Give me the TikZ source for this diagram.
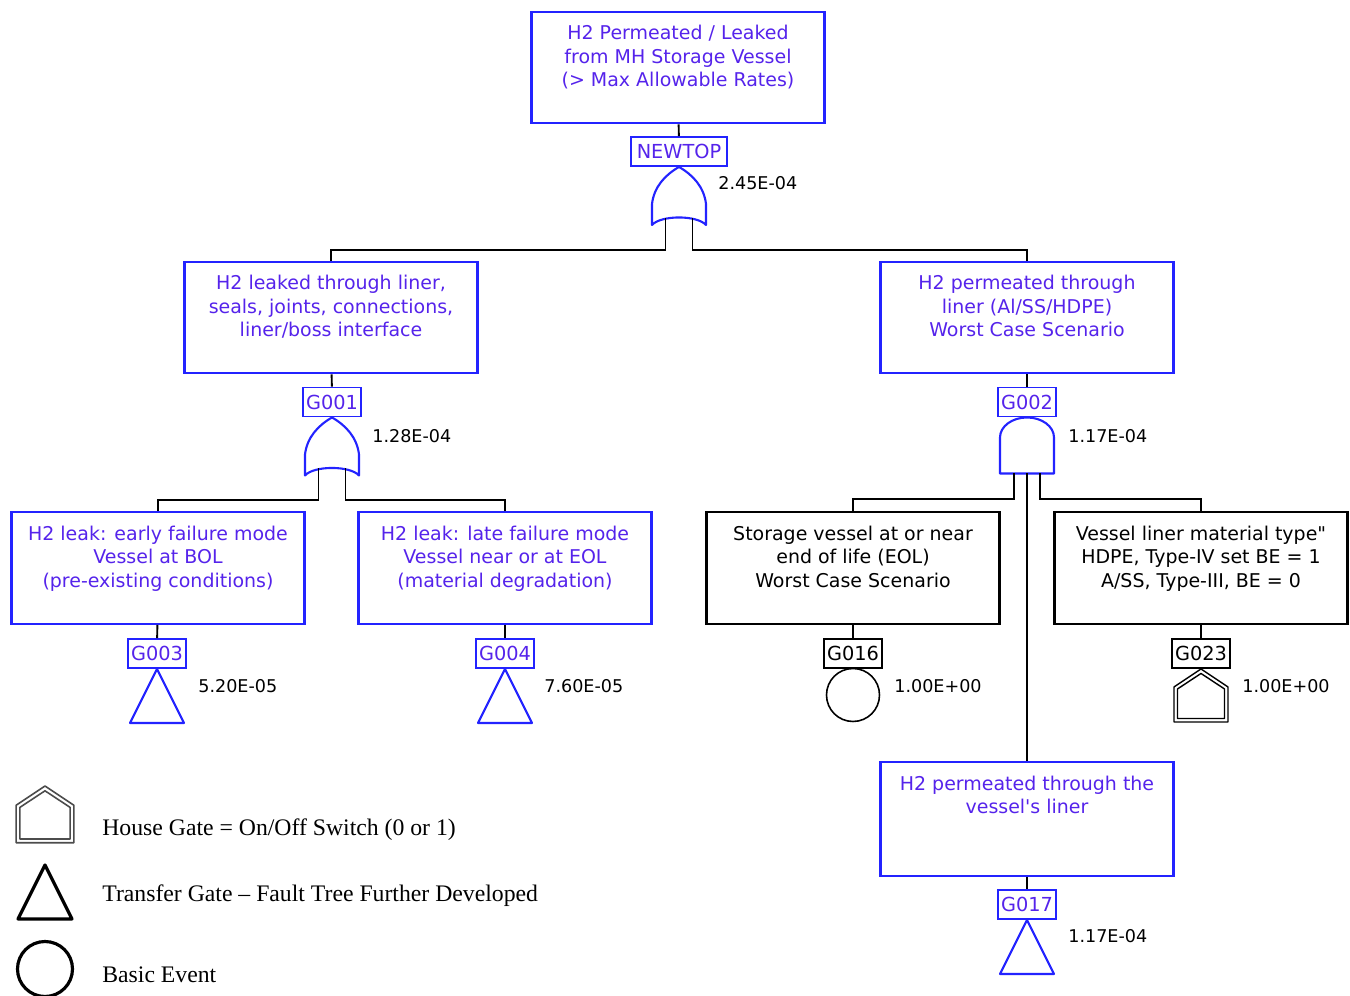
\documentclass[tikz,border=0pt]{standalone}
\usepackage{xcolor}
\usepackage{fontspec}
\usepackage{tikz}
\usetikzlibrary{positioning, calc}
\newfontfamily\ftfont{DejaVu Sans}
\newfontfamily\legfont[Ligatures=TeX]{Liberation Serif}
\definecolor{ftblue}{RGB}{35,35,255}
\definecolor{fttext}{RGB}{85,35,235}

\tikzset{
	% gate symbols, tip at the origin
	orgate/.pic={
		\draw[line join=round, fill=white] (0,0) .. controls (14,8) and (25,20) .. (27,37) -- (27,58)
			.. controls (18,48) and (-18,48) .. (-27,58) -- (-27,37) .. controls (-25,20) and (-14,8) .. cycle;
		\coordinate (-l) at (-13.5,51);
		\coordinate (-r) at (13.5,51);
		\coordinate (-bl) at (-13.5,83);
		\coordinate (-br) at (13.5,83);
	},
	andgate/.pic={
		\draw[line join=round, fill=white] (-27,56) -- (-27,20) arc[start angle=180, end angle=360, x radius=27, y radius=20] -- (27,56) -- cycle;
		\coordinate (-l) at (-13,56);
		\coordinate (-m) at (0,56);
		\coordinate (-r) at (13,56);
		\coordinate (-bl) at (-13,82);
		\coordinate (-br) at (13,82);
	},
	xfer/.pic={
		\draw[line join=round] (0,0) -- (27,54) -- (-27,54) -- cycle;
	},
	house/.pic={
		\draw[line join=round] (0,0) -- (27,18) -- (27,53) -- (-27,53) -- (-27,18) -- cycle;
		\draw[line join=round] (0,4.5) -- (23.5,20) -- (23.5,49.5) -- (-23.5,49.5) -- (-23.5,20) -- cycle;
	}
}

\begin{document}
\begin{tikzpicture}[x=0.02cm, y=-0.02cm,
	box/.style={draw=ftblue, line width=1.2pt, minimum width=5.86cm, minimum height=2.23cm},
	bbox/.style={box, draw=black},
	boxtext/.style={align=center, anchor=north, inner sep=0pt, yshift=-0.29cm, text=fttext, font=\ftfont\fontsize{10.8}{13.3}\selectfont},
	bboxtext/.style={boxtext, text=black},
	glabel/.style={draw=ftblue, text=fttext, line width=1.1pt, minimum width=1.16cm, minimum height=0.58cm, inner sep=1pt, font=\ftfont\fontsize{11}{13}\selectfont},
	bglabel/.style={glabel, draw=black, text=black},
	gate/.style={color=ftblue, line width=1.2pt},
	val/.style={anchor=west, inner sep=0pt, font=\ftfont\fontsize{10}{12}\selectfont},
	legtext/.style={anchor=west, inner sep=0pt, font=\legfont\fontsize{13.5}{16}\selectfont},
	wire/.style={line width=1.1pt}]
	\useasboundingbox (0,0) rectangle (1350,996);

	% Events
	\node[box] (top) at (678,67.5) {};
	\node[boxtext] (toptext) at (top.north) {H2 Permeated / Leaked\\from MH Storage Vessel\\(> Max Allowable Rates)};
	\node[glabel, minimum width=1.92cm] (newtop) at (679,151.5) {NEWTOP};

	\node[box] (leak) at (331,317.5) {};
	\node[boxtext] (leaktext) at (leak.north) {H2 leaked through liner,\\seals, joints, connections,\\liner/boss interface};
	\node[glabel] (g001) at (332,402) {G001};

	\node[box] (perm) at (1027,317.5) {};
	\node[boxtext] (permtext) at (perm.north) {H2 permeated through\\liner (Al/SS/HDPE)\\Worst Case Scenario};
	\node[glabel] (g002) at (1027,402) {G002};

	\node[box] (early) at (158,568) {};
	\node[boxtext] (earlytext) at (early.north) {H2 leak: early failure mode\\Vessel at BOL\\(pre-existing conditions)};
	\node[glabel] (g003) at (157,653.5) {G003};

	\node[box] (late) at (505,568) {};
	\node[boxtext] (latetext) at (late.north) {H2 leak: late failure mode\\Vessel near or at EOL\\(material degradation)};
	\node[glabel] (g004) at (505,653.5) {G004};

	\node[bbox] (eol) at (853,568) {};
	\node[bboxtext] (eoltext) at (eol.north) {Storage vessel at or near\\end of life (EOL)\\Worst Case Scenario};
	\node[bglabel] (g016) at (853,653.5) {G016};

	\node[bbox] (mat) at (1201,568) {};
	\node[bboxtext] (mattext) at (mat.north) {Vessel liner material type"\\HDPE, Type-IV set BE = 1\\A/SS, Type-III, BE = 0};
	\node[bglabel] (g023) at (1201,653.5) {G023};

	\node[box, minimum height=2.28cm] (liner) at (1027,819) {};
	\node[boxtext] (linertext) at (liner.north) {H2 permeated through the\\vessel's liner};
	\node[glabel] (g017) at (1027,904.5) {G017};

	% Gates
	\pic[gate] (or0) at (newtop.south) {orgate};
	\pic[gate] (or1) at (g001.south) {orgate};
	\pic[gate] (and2) at (g002.south) {andgate};
	\pic[gate] at (g003.south) {xfer};
	\pic[gate] at (g004.south) {xfer};
	\pic[gate] at (g017.south) {xfer};
	\pic[line width=0.8pt] at (g023.south) {house};
	\node[circle, draw, line width=0.9pt, minimum size=1.06cm, inner sep=0pt] (be016) at (853,695) {};

	% Probabilities
	\node[val] (v0) at (718,183) {2.45E-04};
	\node[val] (v1) at (372,436) {1.28E-04};
	\node[val] (v2) at (1068,436) {1.17E-04};
	\node[val] (v3) at (198,686) {5.20E-05};
	\node[val] (v4) at (544,686) {7.60E-05};
	\node[val] (v16) at (894,686) {1.00E+00};
	\node[val] (v23) at (1242,686) {1.00E+00};
	\node[val] (v17) at (1068,936) {1.17E-04};

	% Connections
	\draw[wire] (top) -- (newtop);
	\draw[wire] (or0-l) -- (or0-bl) -| (leak);
	\draw[wire] (or0-r) -- (or0-br) -| (perm);
	\draw[wire] (leak) -- (g001);
	\draw[wire] (perm) -- (g002);
	\draw[wire] (or1-l) -- (or1-bl) -| (early);
	\draw[wire] (or1-r) -- (or1-br) -| (late);
	\draw[wire] (and2-l) -- (and2-bl) -| (eol);
	\draw[wire] (and2-r) -- (and2-br) -| (mat);
	\draw[wire] (and2-m) -- (liner);
	\draw[wire] (early) -- (g003);
	\draw[wire] (late) -- (g004);
	\draw[wire] (eol) -- (g016);
	\draw[wire] (mat) -- (g023);
	\draw[wire] (liner) -- (g017);

	% Legend
	\pic[line width=0.9pt, color=black!70, scale=1.07] at (45,786) {house};
	\node[legtext] (leghouse) at (102,830) {House Gate = On/Off Switch (0 or 1)};
	\pic[line width=1.8pt] at (45,865) {xfer};
	\node[legtext] (legxfer) at (102,896) {Transfer Gate \textendash{} Fault Tree Further Developed};
	\node[circle, draw, line width=1.8pt, minimum size=1.1cm, inner sep=0pt] (legbe) at (45,969) {};
	\node[legtext] (legbasic) at (102,975) {Basic Event};
\end{tikzpicture}
\end{document}
